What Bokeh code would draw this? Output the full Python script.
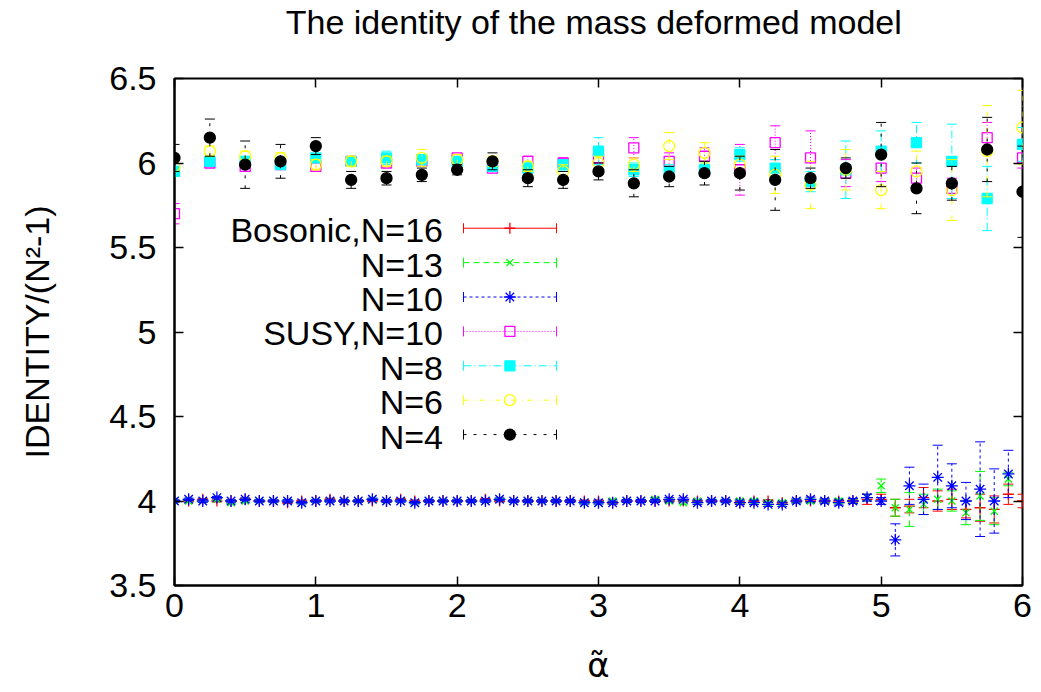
import math
from bokeh.plotting import figure
from bokeh.models import ColumnDataSource, LinearAxis, FixedTicker, CustomJSTickFormatter, Range1d
from bokeh.core.properties import value
from bokeh.embed import file_html
from bokeh.resources import INLINE

# ---------------- data ----------------
title_text = "The identity of the mass deformed  model"
x_label = "\u03b1\u0303"
y_label = "IDENTITY/(N\u00b2-1)"
x_ticks = [0, 1, 2, 3, 4, 5, 6]
y_ticks = [3.5, 4, 4.5, 5, 5.5, 6, 6.5]

# coarse alpha grid (SUSY / small N runs)
alpha_coarse = [0.0, 0.25, 0.5, 0.75, 1.0, 1.25, 1.5, 1.75, 2.0, 2.25, 2.5, 2.75, 3.0,
                3.25, 3.5, 3.75, 4.0, 4.25, 4.5, 4.75, 5.0, 5.25, 5.5, 5.75, 6.0]

susy10 = [5.70, 6.00, 5.98, 5.99, 5.98, 6.01, 6.00, 6.01, 6.03, 5.97, 6.01, 6.00, 6.03,
          6.09, 6.01, 6.04, 5.96, 6.12, 6.03, 5.94, 5.97, 5.91, 5.85, 6.15, 6.03]
susy10_err = [0.06, 0.02, 0.03, 0.02, 0.02, 0.02, 0.02, 0.02, 0.02, 0.02, 0.03, 0.03, 0.03,
              0.06, 0.05, 0.05, 0.15, 0.10, 0.16, 0.08, 0.08, 0.06, 0.06, 0.09, 0.06]

n8 = [5.95, 6.01, 6.01, 5.99, 6.03, 6.01, 6.03, 6.02, 6.01, 5.98, 5.97, 5.99, 6.07,
      5.96, 5.95, 5.96, 6.05, 5.97, 5.89, 5.96, 6.07, 6.12, 6.01, 5.79, 6.11]
n8_err = [0.03, 0.02, 0.02, 0.02, 0.02, 0.02, 0.04, 0.03, 0.02, 0.02, 0.03, 0.03, 0.08,
          0.04, 0.04, 0.04, 0.04, 0.05, 0.06, 0.17, 0.12, 0.12, 0.22, 0.19, 0.10]

n6 = [5.98, 6.07, 6.04, 6.03, 5.99, 6.01, 6.01, 6.03, 6.02, 6.01, 5.98, 5.95, 6.00,
      5.99, 6.10, 6.06, 5.99, 5.93, 5.87, 5.96, 5.84, 5.95, 5.84, 6.07, 6.21]
n6_err = [0.03, 0.03, 0.03, 0.03, 0.03, 0.03, 0.03, 0.05, 0.03, 0.03, 0.03, 0.04, 0.04,
          0.04, 0.08, 0.06, 0.05, 0.11, 0.14, 0.12, 0.11, 0.12, 0.18, 0.27, 0.22]

n4 = [6.03, 6.15, 5.99, 6.01, 6.10, 5.90, 5.91, 5.93, 5.96, 6.01, 5.91, 5.90, 5.95,
      5.88, 5.92, 5.94, 5.94, 5.90, 5.91, 5.97, 6.05, 5.85, 5.88, 6.08, 5.83]
n4_err = [0.08, 0.11, 0.14, 0.10, 0.05, 0.05, 0.04, 0.04, 0.03, 0.05, 0.05, 0.05, 0.05,
          0.08, 0.06, 0.07, 0.10, 0.18, 0.06, 0.06, 0.19, 0.15, 0.10, 0.19, 0.27]

# fine alpha grid (bosonic runs)
alpha_fine = [0.0, 0.1, 0.2, 0.3, 0.4, 0.5, 0.6, 0.7, 0.8, 0.9,
              1.0, 1.1, 1.2, 1.3, 1.4, 1.5, 1.6, 1.7, 1.8, 1.9,
              2.0, 2.1, 2.2, 2.3, 2.4, 2.5, 2.6, 2.7, 2.8, 2.9,
              3.0, 3.1, 3.2, 3.3, 3.4, 3.5, 3.6, 3.7, 3.8, 3.9,
              4.0, 4.1, 4.2, 4.3, 4.4, 4.5, 4.6, 4.7, 4.8, 4.9,
              5.0, 5.1, 5.2, 5.3, 5.4, 5.5, 5.6, 5.7, 5.8, 5.9,
              6.0]

bos16 = [4.00, 4.00, 4.01, 4.00, 4.00, 4.01, 4.00, 4.00, 3.99, 4.00,
         4.00, 4.01, 4.00, 4.00, 4.00, 4.00, 4.01, 4.00, 4.00, 4.00,
         4.00, 4.00, 4.01, 4.00, 4.00, 4.00, 4.00, 4.00, 4.00, 4.00,
         4.00, 3.99, 4.00, 4.00, 4.00, 4.00, 4.00, 4.00, 4.00, 4.00,
         3.99, 4.00, 4.00, 3.99, 4.00, 4.00, 4.00, 4.00, 4.00, 4.01,
         4.01, 3.96, 3.97, 4.02, 4.00, 4.01, 3.95, 3.96, 3.95, 4.04,
         4.00]
bos16_err = [0.005, 0.006, 0.005, 0.006, 0.005, 0.006, 0.005, 0.006, 0.005, 0.006,
             0.005, 0.006, 0.005, 0.006, 0.005, 0.006, 0.005, 0.006, 0.005, 0.006,
             0.005, 0.006, 0.005, 0.006, 0.005, 0.006, 0.005, 0.006, 0.005, 0.006,
             0.006, 0.006, 0.007, 0.006, 0.006, 0.007, 0.006, 0.006, 0.007, 0.006,
             0.007, 0.007, 0.008, 0.007, 0.008, 0.008, 0.008, 0.009, 0.010, 0.03,
             0.03, 0.05, 0.04, 0.06, 0.06, 0.06, 0.05, 0.08, 0.08, 0.06,
             0.04]

bos13 = [4.00, 4.00, 4.00, 4.01, 3.99, 4.00, 4.00, 4.00, 4.00, 3.99,
         4.00, 4.00, 4.00, 4.00, 4.01, 4.00, 4.00, 3.99, 4.00, 4.00,
         4.00, 4.00, 4.00, 4.01, 4.00, 4.00, 4.00, 4.00, 4.00, 3.99,
         3.99, 4.00, 4.00, 4.00, 4.01, 4.00, 3.99, 4.00, 4.00, 4.00,
         4.00, 4.00, 3.99, 3.99, 4.00, 4.00, 4.00, 4.00, 4.00, 4.02,
         4.09, 3.96, 3.95, 3.98, 4.01, 4.00, 3.93, 4.03, 3.94, 4.13]
bos13_err = [0.006, 0.006, 0.007, 0.006, 0.006, 0.007, 0.006, 0.006, 0.007, 0.006,
             0.006, 0.006, 0.007, 0.006, 0.006, 0.007, 0.006, 0.006, 0.007, 0.006,
             0.006, 0.006, 0.007, 0.006, 0.006, 0.007, 0.006, 0.006, 0.007, 0.006,
             0.007, 0.007, 0.007, 0.008, 0.007, 0.007, 0.008, 0.007, 0.008, 0.008,
             0.008, 0.009, 0.008, 0.009, 0.010, 0.010, 0.011, 0.012, 0.012, 0.02,
             0.04, 0.05, 0.10, 0.06, 0.06, 0.06, 0.07, 0.145, 0.08, 0.04]

bos10 = [4.00, 4.01, 4.00, 4.02, 4.00, 4.01, 4.00, 4.00, 4.00, 3.99,
         4.00, 4.00, 4.00, 4.00, 4.01, 4.00, 4.00, 3.99, 4.00, 4.00,
         4.00, 4.00, 4.00, 4.01, 4.00, 4.00, 4.00, 4.00, 4.00, 3.99,
         3.99, 3.99, 4.00, 4.00, 4.00, 4.01, 4.01, 3.99, 4.00, 4.00,
         3.99, 3.99, 3.98, 3.98, 4.00, 4.01, 4.00, 3.99, 4.00, 4.02,
         4.00, 3.77, 4.09, 4.01, 4.14, 4.09, 4.00, 4.07, 4.00, 4.16]
bos10_err = [0.007, 0.007, 0.008, 0.007, 0.007, 0.008, 0.007, 0.007, 0.008, 0.007,
             0.007, 0.007, 0.008, 0.007, 0.007, 0.008, 0.007, 0.007, 0.008, 0.007,
             0.007, 0.008, 0.008, 0.008, 0.008, 0.008, 0.008, 0.008, 0.009, 0.008,
             0.008, 0.009, 0.009, 0.009, 0.009, 0.010, 0.009, 0.010, 0.010, 0.010,
             0.011, 0.011, 0.012, 0.012, 0.012, 0.013, 0.013, 0.014, 0.015, 0.02,
             0.02, 0.095, 0.11, 0.09, 0.19, 0.13, 0.11, 0.28, 0.19, 0.14]

series_names = ["Bosonic,N=16", "N=13", "N=10", "SUSY,N=10", "N=8", "N=6", "N=4"]
series_x = [alpha_fine, alpha_fine[:60], alpha_fine[:60], alpha_coarse, alpha_coarse, alpha_coarse, alpha_coarse]
series_y = [bos16, bos13, bos10, susy10, n8, n6, n4]
series_err = [bos16_err, bos13_err, bos10_err, susy10_err, n8_err, n6_err, n4_err]

# ---------------- styles ----------------
colors = ["#ff0000", "#00ff00", "#0000ff", "#ff00ff", "#00ffff", "#ffff00", "#000000"]
dashes = ["solid", "6 4", "3 3", "1 2", "8 3 1 3", "5 5 1 5", "3 7"]
markers = ["cross", "x", "asterisk", "square", "square", "circle", "circle"]
marker_sizes = [11, 10, 12, 10, 10, 11, 11]
marker_fill = [False, False, False, False, True, False, True]

FONT = "Liberation Sans"
FS = "34px"

p = figure(width=1040, height=690, x_range=Range1d(0, 6), y_range=Range1d(3.5, 6.5),
           output_backend="svg", toolbar_location=None, title=title_text,
           min_border_left=174, min_border_right=18, min_border_top=77, min_border_bottom=105)
p.background_fill_color = "white"
p.border_fill_color = "white"
p.xgrid.visible = False
p.ygrid.visible = False
p.outline_line_color = "black"
p.outline_line_width = 2
p.outline_line_alpha = 1

p.title.text_font = FONT
p.title.text_font_size = FS
p.title.text_font_style = "normal"
p.title.text_color = "black"
p.title.text_line_height = 1.0
p.title.align = "center"
p.title.standoff = 0

label_fmt = CustomJSTickFormatter(code="return String(tick);")
for ax, ticks in ((p.xaxis[0], x_ticks), (p.yaxis[0], y_ticks)):
    ax.ticker = FixedTicker(ticks=ticks)
    ax.formatter = label_fmt
    ax.major_tick_in = 9
    ax.major_tick_out = 0
    ax.minor_tick_in = 0
    ax.minor_tick_out = 0
    ax.major_tick_line_width = 1.5
    ax.major_tick_line_color = "black"
    ax.axis_line_color = "black"
    ax.axis_line_width = 2
    ax.major_label_text_font = FONT
    ax.major_label_text_font_size = FS
    ax.major_label_text_color = "black"
    ax.major_label_text_line_height = 1.0
    ax.axis_label_text_font = FONT
    ax.axis_label_text_font_size = FS
    ax.axis_label_text_font_style = "normal"
    ax.axis_label_text_color = "black"
    ax.axis_label_text_line_height = 1.0

p.xaxis[0].axis_label = x_label
p.xaxis[0].axis_label_text_font = "DejaVu Sans"
p.xaxis[0].major_label_standoff = 8
p.xaxis[0].axis_label_standoff = 25
p.yaxis[0].axis_label = y_label
p.yaxis[0].major_label_standoff = 18
p.yaxis[0].axis_label_standoff = 50

blank_fmt = CustomJSTickFormatter(code="return '';")
# mirror axes (ticks only)
top_axis = LinearAxis(ticker=FixedTicker(ticks=x_ticks), formatter=blank_fmt,
                      major_tick_in=9, major_tick_out=0, minor_tick_in=0, minor_tick_out=0,
                      major_tick_line_width=1.5, major_tick_line_color="black",
                      axis_line_color=None, major_label_standoff=0,
                      major_label_text_font_size="1px",
                      # blank axis label only reserves the gap between frame and title
                      axis_label=" ", axis_label_standoff=34, axis_label_text_font_size="1px")
p.add_layout(top_axis, "above")
right_axis = LinearAxis(ticker=FixedTicker(ticks=y_ticks), formatter=blank_fmt,
                        major_tick_in=9, major_tick_out=0, minor_tick_in=0, minor_tick_out=0,
                        major_tick_line_width=1.5, major_tick_line_color="black",
                        axis_line_color=None, major_label_standoff=0,
                        major_label_text_font_size="1px")
p.add_layout(right_axis, "right")

# ---------------- series ----------------
for x, y, err, c, d, mk, ms, mf in zip(series_x, series_y, series_err, colors, dashes,
                                        markers, marker_sizes, marker_fill):
    lo = [a - b for a, b in zip(y, err)]
    hi = [a + b for a, b in zip(y, err)]
    src = ColumnDataSource(dict(x=x, y=y, lo=lo, hi=hi))
    p.segment(x0="x", y0="lo", x1="x", y1="hi", source=src, line_color=c, line_dash=d, line_width=1)
    p.scatter(x="x", y="lo", source=src, marker="dash", size=10, line_color=c, line_width=1)
    p.scatter(x="x", y="hi", source=src, marker="dash", size=10, line_color=c, line_width=1)
    p.scatter(x="x", y="y", source=src, marker=mk, size=ms, line_color=c,
              fill_color=c if mf else None, line_width=1.3)

# ---------------- legend (gnuplot style: text left, sample right) ----------------
leg_text_x = 1.90
leg_x0, leg_x1, leg_xm = 2.045, 2.703, 2.373
leg_top, leg_step = 5.614, 0.2035
for i, (name, c, d, mk, ms, mf) in enumerate(zip(series_names, colors, dashes, markers,
                                                  marker_sizes, marker_fill)):
    yl = leg_top - i * leg_step
    p.text(x=[leg_text_x], y=[yl], text=[name], text_align="right", text_baseline="middle",
           text_font=value(FONT), text_font_size=value(FS), text_color="black", y_offset=2)
    p.segment(x0=[leg_x0], y0=[yl], x1=[leg_x1], y1=[yl], line_color=c, line_dash=d, line_width=1)
    p.scatter(x=[leg_x0, leg_x1], y=[yl, yl], marker="dash", angle=math.pi / 2, size=10,
              line_color=c, line_width=1)
    p.scatter(x=[leg_xm], y=[yl], marker=mk, size=ms, line_color=c,
              fill_color=c if mf else None, line_width=1.3)

open("out.html", "w").write(file_html(p, INLINE))
